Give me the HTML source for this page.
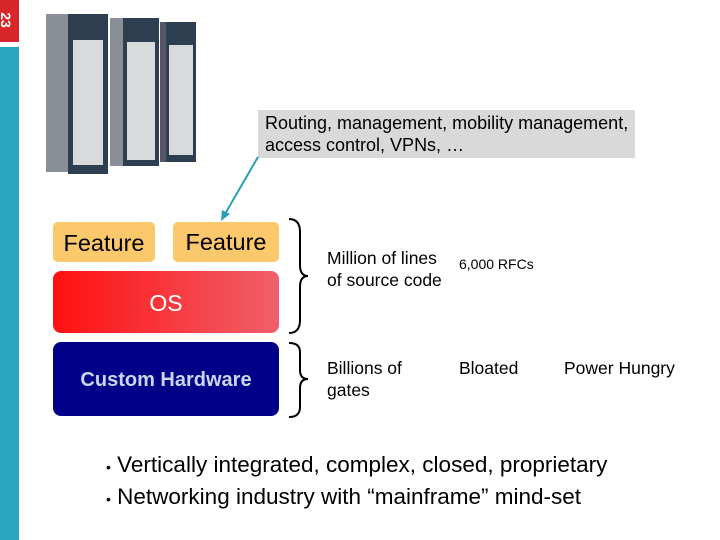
<html><body style="margin:0;width:720px;height:540px;position:relative;background:#fff;font-family:'Liberation Sans',sans-serif;overflow:hidden">
<div style="position:absolute;left:0;top:0;width:19px;height:42px;background:#d9262b;color:#fff;font-size:14px;font-weight:bold"><div style="transform:rotate(90deg);position:absolute;left:-2px;top:12px">23</div></div>
<div style="position:absolute;left:0;top:47px;width:19px;height:493px;background:#2aa5bf"></div>
<div style="position:absolute;left:46px;top:14px;width:25px;height:158px;background:#8a8f96"></div>
<div style="position:absolute;left:68px;top:14px;width:40px;height:160px;background:#2c3e50"></div>
<div style="position:absolute;left:73px;top:40px;width:30px;height:125px;background:#d8dadc"></div>
<div style="position:absolute;left:110px;top:18px;width:14px;height:148px;background:#8a8f96"></div>
<div style="position:absolute;left:123px;top:18px;width:36px;height:148px;background:#2c3e50"></div>
<div style="position:absolute;left:127px;top:42px;width:28px;height:118px;background:#d8dadc"></div>
<div style="position:absolute;left:160px;top:22px;width:8px;height:140px;background:#556"></div>
<div style="position:absolute;left:166px;top:22px;width:30px;height:140px;background:#2c3e50"></div>
<div style="position:absolute;left:169px;top:45px;width:24px;height:110px;background:#d8dadc"></div>
<div style="position:absolute;left:258px;top:110px;width:377px;height:48px;background:#d9d9d9;font-size:18px;line-height:22px;padding:2px 7px;box-sizing:border-box;white-space:nowrap">Routing, management, mobility management,<br>access control, VPNs, …</div>
<svg style="position:absolute;left:0;top:0" width="720" height="540">
<line x1="258" y1="157" x2="225" y2="214" stroke="#2a9fb5" stroke-width="2"/>
<polygon points="221,221 222,210 230,214" fill="#2a9fb5"/>
<path d="M289,219 Q300,219 300,232 L300,265 Q300,276 308,276 Q300,276 300,287 L300,320 Q300,333 289,333" fill="none" stroke="#000" stroke-width="2"/>
<path d="M289,343 Q300,343 300,352 L300,370 Q300,379 308,379 Q300,379 300,388 L300,407 Q300,417 289,417" fill="none" stroke="#000" stroke-width="2"/>
</svg>
<div style="position:absolute;left:53px;top:222px;width:102px;height:40px;background:#fbc86c;border-radius:5px;font-size:23.5px;text-align:center;line-height:42px">Feature</div>
<div style="position:absolute;left:173px;top:222px;width:106px;height:40px;background:#fbc86c;border-radius:5px;font-size:23.5px;text-align:center;line-height:40px">Feature</div>
<div style="position:absolute;left:53px;top:271px;width:226px;height:62px;background:linear-gradient(90deg,#ff1010,#f0606a);border-radius:8px;font-size:23px;color:#fff;text-align:center;line-height:64px">OS</div>
<div style="position:absolute;left:53px;top:342px;width:226px;height:74px;background:#000088;border-radius:8px;font-size:20px;font-weight:bold;color:#c8d8e8;text-align:center;line-height:76px">Custom Hardware</div>
<div style="position:absolute;left:327px;top:247px;font-size:17.5px;line-height:22px">Million of lines<br>of source code</div>
<div style="position:absolute;left:459px;top:256px;font-size:14px">6,000 RFCs</div>
<div style="position:absolute;left:327px;top:357px;font-size:17.5px;line-height:22px">Billions of<br>gates</div>
<div style="position:absolute;left:459px;top:357px;font-size:17.5px;line-height:22px">Bloated</div>
<div style="position:absolute;left:564px;top:357px;font-size:17.5px;line-height:22px">Power Hungry</div>
<div style="position:absolute;left:106px;top:450px;font-size:22.5px;line-height:29px;white-space:nowrap"><span style="font-size:14px">•</span> Vertically integrated, complex, closed, proprietary<br><span style="font-size:14px">•</span> Networking industry with “mainframe” mind-set</div>
</body></html>
